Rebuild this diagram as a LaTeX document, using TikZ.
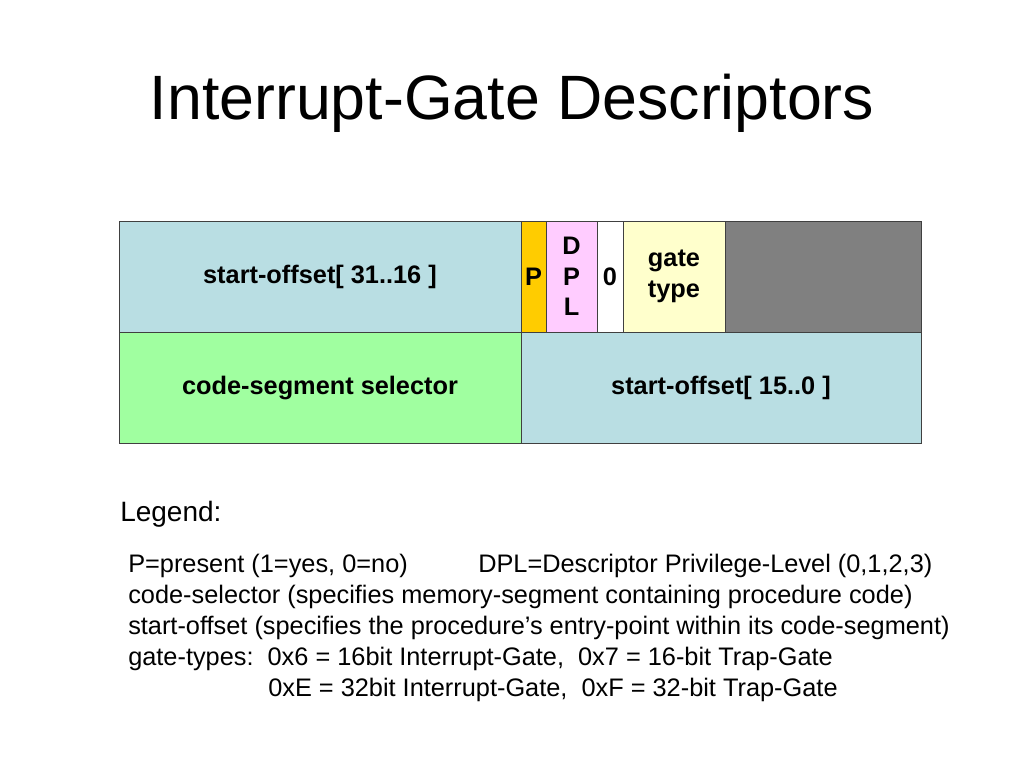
\documentclass[tikz,border=0pt]{standalone}
\usepackage{fontspec}
\setmainfont{Liberation Sans}
\usetikzlibrary{positioning}

\definecolor{offsetblue}{RGB}{185,222,227}
\definecolor{selgreen}{RGB}{160,255,160}
\definecolor{presorange}{RGB}{255,204,0}
\definecolor{dplpink}{RGB}{255,204,255}
\definecolor{typeyellow}{RGB}{255,255,204}
\definecolor{unusedgray}{RGB}{128,128,128}

\tikzset{
  field/.style={draw=black!75, line width=0.75pt, rectangle, inner sep=0pt, outer sep=0pt,
    minimum height=83.25pt, align=center, font=\fontsize{19}{23}\selectfont\bfseries},
  legendline/.style={anchor=base west, inner sep=0pt, font=\fontsize{19}{23}\selectfont}
}

\begin{document}
\begin{tikzpicture}[x=0.75pt, y=-0.75pt]
        \useasboundingbox (0,0) rectangle (1024,768);
        \node[anchor=base, inner sep=0pt, font=\fontsize{47}{54}\selectfont] (title) at (512,119) {Interrupt-Gate Descriptors};

        % upper half of the descriptor
        \node[field, fill=offsetblue, anchor=north west, minimum width=301.5pt] (hi) at (119,221) {start-offset[ 31..16 ]};
        \node[field, fill=presorange, right=0pt of hi, minimum width=18.75pt] (P) {P};
        \node[field, fill=dplpink, right=0pt of P, minimum width=38.25pt] (DPL) {D\\P\\L};
        \node[field, fill=white, right=0pt of DPL, minimum width=19.5pt] (zero) {0};
        \node[field, fill=typeyellow, right=0pt of zero, minimum width=76.5pt] (type) {gate\\type};
        \node[field, fill=unusedgray, right=0pt of type, minimum width=147pt] (unused) {};

        % lower half of the descriptor
        \node[field, fill=selgreen, below=0pt of hi, minimum width=301.5pt] (sel) {code-segment selector};
        \node[field, fill=offsetblue, right=0pt of sel, minimum width=300pt] (lo) {start-offset[ 15..0 ]};

        % legend
        \node[legendline, font=\fontsize{21}{24}\selectfont] (legend) at (120,521) {Legend:};
        \node[legendline] (l1) at (128,572) {P=present (1=yes, 0=no)};
        \node[legendline] (l1b) at (478,572) {DPL=Descriptor Privilege-Level (0,1,2,3)};
        \node[legendline] (l2) at (128,603) {code-selector (specifies memory-segment containing procedure code)};
        \node[legendline] (l3) at (128,634) {start-offset (specifies the procedure’s entry-point within its code-segment)};
        \node[legendline] (l4) at (128,665) {gate-types:\ \ 0x6 = 16bit Interrupt-Gate,\ \ 0x7 = 16-bit Trap-Gate};
        \node[legendline] (l5) at (268,696) {0xE = 32bit Interrupt-Gate,\ \ 0xF = 32-bit Trap-Gate};
    \end{tikzpicture}
\end{document}
